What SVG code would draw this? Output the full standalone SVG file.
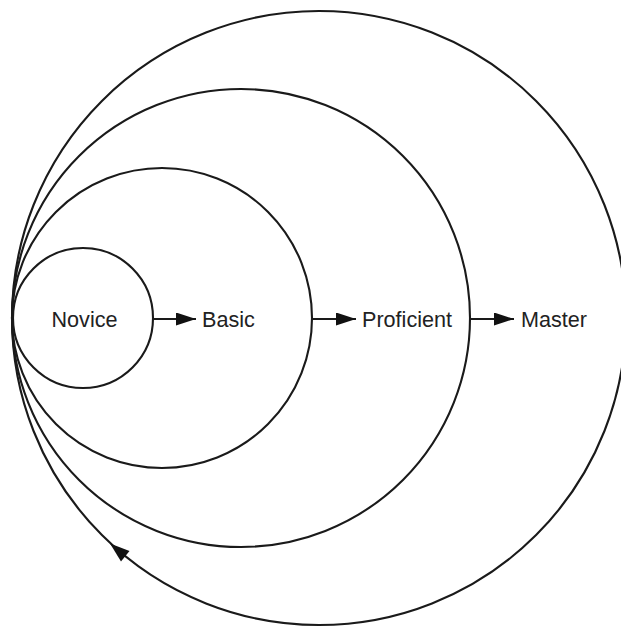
<svg xmlns="http://www.w3.org/2000/svg" width="621" height="628" viewBox="0 0 621 628">
  <style>
    .ring { fill: none; stroke: #1a1a1a; stroke-width: 2.1; }
    .label { font-family: "Liberation Sans", Arial, sans-serif; font-size: 21.6px; fill: #222; }
    .link { fill: none; stroke: #1a1a1a; stroke-width: 1.8; marker-end: url(#head); }
    .tip { fill: #111; }
  </style>
  <defs>
    <marker id="head" markerUnits="userSpaceOnUse" markerWidth="20" markerHeight="13" refX="20" refY="6.5" orient="auto">
      <path d="M0,0 L20,6.5 L0,13 z" fill="#111"/>
    </marker>
  </defs>
  <rect width="621" height="628" fill="#fff"/>

  <!-- nested stages, all touching at the left edge -->
  <g id="master">
    <circle class="ring" cx="319" cy="318" r="307"/>
    <text class="label" x="521" y="327">Master</text>
  </g>
  <g id="proficient">
    <circle class="ring" cx="241" cy="318" r="229"/>
    <text class="label" x="362" y="327">Proficient</text>
  </g>
  <g id="basic">
    <circle class="ring" cx="162" cy="318" r="150"/>
    <text class="label" x="202" y="327">Basic</text>
  </g>
  <g id="novice">
    <circle class="ring" cx="83" cy="318" r="70"/>
    <text class="label" x="84.5" y="327" text-anchor="middle">Novice</text>
  </g>

  <g id="connectors">
    <path class="link" d="M153,319 H196"/>
    <path class="link" d="M311,319 H356"/>
    <path class="link" d="M470,319 H514"/>
    <!-- head on the outer ring, pointing back round toward the start -->
    <polygon class="tip" points="110,543.5 129.5,551 121,561.5"/>
  </g>
</svg>
